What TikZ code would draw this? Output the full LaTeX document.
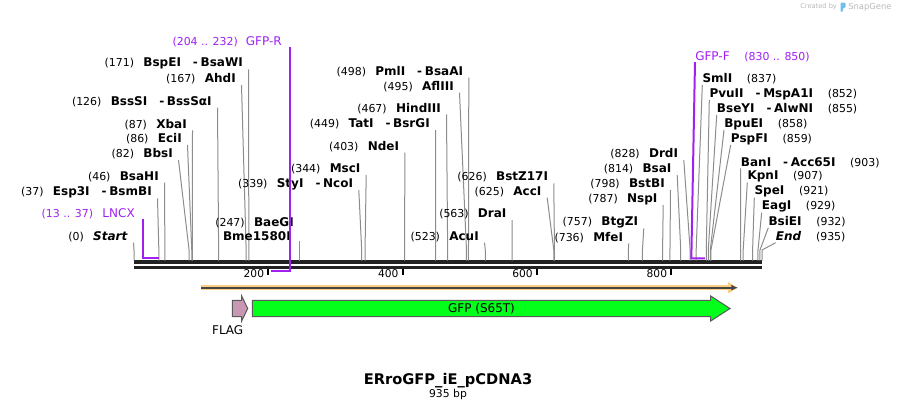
\documentclass[tikz,border=0pt]{standalone}
\usepackage{fontspec}
\setmainfont{DejaVu Sans}
\usetikzlibrary{arrows.meta,positioning,calc}
\definecolor{bbgray}{RGB}{34,34,34}
\definecolor{ldrgray}{RGB}{140,140,140}
\definecolor{prmpurple}{RGB}{160,32,240}
\definecolor{orfglow}{RGB}{250,205,130}
\definecolor{orfdark}{RGB}{70,70,70}
\definecolor{flagpink}{RGB}{200,152,178}
\definecolor{gfpgreen}{RGB}{4,255,26}
\definecolor{featline}{RGB}{90,90,90}
\definecolor{wmgray}{RGB}{185,185,185}
\definecolor{wmblue}{RGB}{110,190,240}
\newcommand{\cnum}[1]{{\fontsize{8.2}{9.8}\selectfont(#1)}}
\newcommand{\enz}[1]{{\fontsize{9}{10.8}\selectfont\bfseries #1}}
\newcommand{\dsh}{\hspace{9pt}-\hspace{2pt}}
\newcommand{\gapL}{\hspace{7pt}}
\newcommand{\gapR}{\hspace{11pt}}
\tikzset{
  enzL/.style    = {anchor=east, inner sep=0pt},
  enzR/.style    = {anchor=west, inner sep=0pt},
  ldr/.style     = {draw=ldrgray, line width=0.75pt},
  bbtop/.style   = {draw=bbgray, line width=2.7pt},
  bbbot/.style   = {draw=bbgray, line width=2.25pt},
  tck/.style     = {draw=black, line width=1.5pt},
  tcklbl/.style  = {anchor=east, inner sep=0pt, font=\fontsize{8}{9.6}\selectfont},
  prm/.style     = {draw=prmpurple, line width=1.5pt},
  prmlbl/.style  = {inner sep=0pt, text=prmpurple},
  orfbg/.style   = {draw=orfglow, line width=4pt, -{Triangle[length=7.5pt,width=8pt]}},
  orfln/.style   = {draw=orfdark, line width=1.2pt, -{Latex[length=5pt,width=4.5pt]}},
  feat/.style    = {draw=featline, line width=0.75pt},
  ftlbl/.style   = {inner sep=0pt, font=\fontsize{9}{10.8}\selectfont},
  wm/.style      = {anchor=west, inner sep=0pt, text=wmgray},
}
\begin{document}
\begin{tikzpicture}[x=0.75pt,y=-0.75pt]
  \useasboundingbox (0,0) rectangle (897,411);

  \coordinate (bbL) at (134,262.2);
  \coordinate (bbR) at (762,262.2);
  \coordinate (bbL2) at (134,267.2);
  \coordinate (bbR2) at (762,267.2);
  \draw[bbtop] (bbL) -- (bbR);
  \draw[bbbot] (bbL2) -- (bbR2);
  \foreach \t in {200,400,600,800} {
    \pgfmathsetmacro\tx{134+\t*0.671658}
    \coordinate (t\t) at (\tx,268.5);
    \coordinate (tb\t) at (\tx,274.5);
    \draw[tck] (t\t) -- (tb\t);
    \node[tcklbl] (tl\t) at (\tx-4,274) {\t};
  }

  \foreach \p/\xe/\y/\nm in {
      0/128/236.7/{\textit{Start}}, 37/152/192.3/{Esp3I\dsh BsmBI},
      46/159/176.7/BsaHI, 82/173/154/BbsI, 86/182/139/EciI, 87/187/124.3/XbaI,
      126/212/101.7/{BssSI\dsh BssSαI}, 167/236/79/AhdI,
      171/243/63.3/{BspEI\dsh BsaWI}, 339/353.3/184/{StyI\dsh NcoI},
      344/360.7/169/MscI, 403/399.3/146.7/NdeI, 449/430/124/{TatI\dsh BsrGI},
      467/441/108.3/HindIII, 495/454/86.7/AflIII, 498/463.3/71.7/{PmlI\dsh BsaAI},
      523/479/236.7/AcuI, 563/506.7/214/DraI, 625/541.7/191.7/AccI,
      626/548.3/177.3/BstZ17I, 736/623.3/237.3/MfeI, 757/638.3/222.3/BtgZI,
      787/657.7/199/NspI, 798/665/184/BstBI, 814/671.7/169/BsaI, 828/678.3/154/DrdI} {
    \pgfmathsetmacro\sx{134+\p*0.671658}
    \coordinate (s\p) at (\sx,260.5);
    \node[enzL] (L\p) at (\xe,\y) {\cnum{\p}\gapL\enz{\nm}};
    \draw[ldr] ([shift={(5.5,6)}]L\p.east) -- (\sx,250) -- (s\p);
  }

  \foreach \p/\xs/\y/\nm in {
      837/702.3/79/SmlI, 852/709.3/94/{PvuII\dsh MspA1I},
      855/716.7/109/{BseYI\dsh AlwNI}, 858/724/124/BpuEI, 859/730.7/139/PspFI,
      903/740.7/162.3/{BanI\dsh Acc65I}, 907/747.3/176.7/KpnI, 921/754.3/191.7/SpeI,
      929/761.7/206.7/EagI, 932/768.3/221.7/BsiEI, 935/775.7/236.7/{\textit{End}}} {
    \pgfmathsetmacro\sx{134+\p*0.671658}
    \coordinate (s\p) at (\sx,260.5);
    \node[enzR] (R\p) at (\xs,\y) {\enz{\nm}\gapR\cnum{\p}};
    \draw[ldr] ([shift={(0,6)}]R\p.west) -- (\sx,250) -- (s\p);
  }

  \coordinate (s247) at ({134+247*0.671658},260.5);
  \node[enzL] (L247a) at (294,222.3) {\cnum{247}\gapL\enz{BaeGI}};
  \node[enzL] (L247b) at (291,236) {\enz{Bme1580I}};
  \draw[ldr] (L247b.south -| s247) -- (s247);

  \coordinate (p13) at ({134+13*0.671658},258.3);
  \coordinate (p37) at ({134+37*0.671658},258.3);
  \node[prmlbl, anchor=east] (lncx) at (135,214)
    {\cnum{13 .. 37}\hspace{7pt}{\fontsize{9}{10.8}\selectfont LNCX}};
  \draw[prm] (lncx.south east -| p13) -- (p13) -- (p37);

  \coordinate (p204) at ({134+204*0.671658},270.7);
  \coordinate (p232) at ({134+232*0.671658},270.7);
  \node[prmlbl, anchor=east] (gfpr) at (282,41.7)
    {\cnum{204 .. 232}\hspace{6pt}{\fontsize{9}{10.8}\selectfont GFP-R}};
  \draw[prm] (gfpr.south east -| p232) -- (p232) -- (p204);

  \coordinate (p830) at ({134+830*0.671658},258.3);
  \coordinate (p850) at ({134+850*0.671658},258.3);
  \node[prmlbl, anchor=west] (gfpf) at (695,56.7)
    {{\fontsize{9}{10.8}\selectfont GFP-F}\hspace{11pt}\cnum{830 .. 850}};
  \draw[prm] (gfpf.south west) -- ([yshift=6pt]p830) -- (p830) -- (p850);

  \coordinate (o1) at (201,287.7);
  \coordinate (o2) at (738,287.7);
  \draw[orfbg] (o1) -- (o2);
  \draw[orfln] (o1) -- (o2);

  \draw[feat, fill=flagpink] (232.3,300.3) -- (241.7,300.3) -- (241.7,296) -- (247.7,308.5)
    -- (241.7,321) -- (241.7,316.7) -- (232.3,316.7) -- cycle;
  \node[ftlbl] (flag) at (227.7,330) {FLAG};
  \draw[feat, fill=gfpgreen] (252.3,300.3) -- (710.7,300.3) -- (710.7,296) -- (730,308.5)
    -- (710.7,321) -- (710.7,316.7) -- (252.3,316.7) -- cycle;
  \node[ftlbl] (gfp) at (481.5,308.5) {GFP (S65T)};

  \node[inner sep=0pt, font=\fontsize{11}{13.2}\selectfont\bfseries] (title) at (448,380.7)
    {ERroGFP\_iE\_pCDNA3};
  \node[inner sep=0pt, font=\fontsize{8.1}{9.7}\selectfont] (len) at (448,394.6) {935 bp};

  \node[wm, font=\fontsize{5}{6}\selectfont] (wm1) at (800,7) {Created by};
  \fill[wmblue, rounded corners=0.8pt] (840.5,2.5) -- (845.5,2.5) -- (845.5,8) -- (842.8,8)
    -- (842.8,12) -- (840.5,12) -- cycle;
  \node[wm, font=\fontsize{6.3}{7.5}\selectfont] (wm2) at (848,7) {SnapGene};
\end{tikzpicture}
\end{document}
